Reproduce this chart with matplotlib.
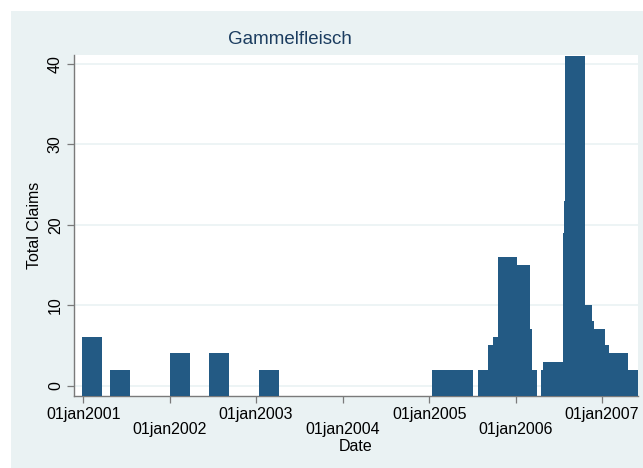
import matplotlib
matplotlib.use("Agg")
import matplotlib.pyplot as plt
import matplotlib.dates as mdates
from matplotlib.patches import Rectangle
import pandas as pd

# claims per date
dates = ["2001-02-08", "2001-06-05", "2002-02-12", "2002-07-27", "2003-02-25",
         "2005-02-23", "2005-03-25", "2005-04-25", "2005-05-25",
         "2005-09-07", "2005-10-17", "2005-11-10", "2005-11-28", "2006-01-19",
         "2006-01-29", "2006-02-17",
         "2006-05-30", "2006-06-09", "2006-09-01", "2006-09-05", "2006-09-10",
         "2006-10-09", "2006-10-17", "2006-12-01", "2006-12-19", "2007-03-10",
         "2007-04-22"]
claims = [6, 2, 4, 4, 2,
          2, 2, 2, 2,
          2, 5, 6, 16, 15,
          7, 2,
          2, 3, 19, 23, 41,
          10, 8, 7, 5, 4,
          2]
tick_dates = ["2001-01-01", "2002-01-01", "2003-01-01", "2004-01-01",
              "2005-01-01", "2006-01-01", "2007-01-01"]
tick_labels = ["01jan2001", "01jan2002", "01jan2003", "01jan2004",
               "01jan2005", "01jan2006", "01jan2007"]
y_ticks = [0, 10, 20, 30, 40]

bg = "#eaf2f3"
bar_color = "#235a84"
axis_grey = "#7a7a7a"

plt.rcParams['font.family'] = ['Liberation Sans', 'DejaVu Sans']

fig = plt.figure(figsize=(6.43, 4.68), dpi=100)
fig.patch.set_facecolor("white")
# stata-like light background, with a thin white strip on top and left
fig.patches.append(Rectangle((11 / 643, -0.01), 1, 1.01 - 11 / 468,
                             transform=fig.transFigure, facecolor=bg,
                             edgecolor="none", zorder=-10))

ax = fig.add_axes([74 / 643, 1 - 395.7 / 468, (638 - 74) / 643, (395.7 - 55) / 468])
ax.set_facecolor("white")

x = mdates.date2num(pd.to_datetime(dates))
ymin, ymax = -1.25, 41.1
ax.bar(x, [c - ymin for c in claims], bottom=ymin, width=84,
       color=bar_color, edgecolor="none", zorder=3)

ax.set_xlim(mdates.date2num(pd.Timestamp("2000-11-23")),
            mdates.date2num(pd.Timestamp("2007-06-02")))
ax.set_ylim(ymin, ymax)

fs = 11.5
ax.set_yticks(y_ticks)
ax.set_yticklabels([str(v) for v in y_ticks], rotation=90, va="center", fontsize=fs)
ax.grid(axis="y", color=bg, linewidth=1.2, zorder=0)

xt = mdates.date2num(pd.to_datetime(tick_dates))
ax.set_xticks(xt)
ax.set_xticklabels([lab if i % 2 == 0 else "\n" + lab for i, lab in enumerate(tick_labels)],
                   fontsize=fs, linespacing=1.02)

for s in ["top", "right"]:
    ax.spines[s].set_visible(False)
for s in ["left", "bottom"]:
    ax.spines[s].set_color(axis_grey)
    ax.spines[s].set_linewidth(1.0)
ax.tick_params(axis="both", color=axis_grey, length=5, width=0.9, labelcolor="black")
ax.tick_params(axis="y", pad=3)
ax.tick_params(axis="x", pad=3)

ax.set_ylabel("Total Claims", fontsize=fs, labelpad=4)
ax.set_xlabel("Date", fontsize=fs, labelpad=1.5)

fig.text(290 / 643, 1 - 39 / 468, "Gammelfleisch", ha="center", va="center",
         fontsize=13.5, color="#1c3d60")

fig.savefig("out.png", dpi=100, facecolor=fig.get_facecolor())
